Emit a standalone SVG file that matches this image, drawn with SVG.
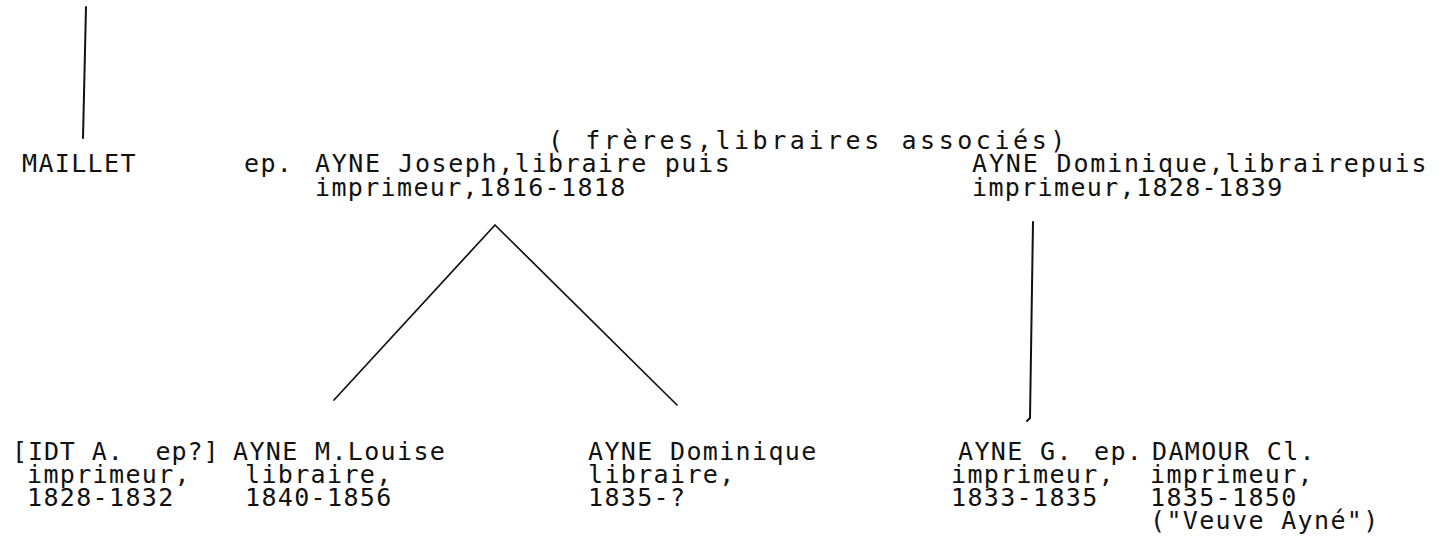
<svg xmlns="http://www.w3.org/2000/svg" width="1447" height="537" viewBox="0 0 1447 537">
<style>
text{font-family:"DejaVu Sans Mono","Liberation Mono",monospace;font-size:25px;fill:#111;letter-spacing:1.35px;white-space:pre}
.wide{letter-spacing:3.55px}
.ln{stroke:#111;stroke-width:2;fill:none;stroke-linecap:round;stroke-linejoin:round}
</style>
<rect width="1447" height="537" fill="#fff"/>
<g id="connectors">
<path class="ln" d="M86,7 L83,138"/>
<path class="ln" d="M334,400 L495,225 L677,405" style="stroke-width:1.7"/>
<path class="ln" d="M1033,222 L1030,418 L1027,421"/>
</g>
<g id="maillet"><text x="22" y="172">MAILLET</text></g>
<g id="ep1"><text x="244" y="172">ep.</text></g>
<g id="freres"><text class="wide" x="548" y="149">( frères,libraires associés)</text></g>
<g id="ayne-joseph">
<text x="315" y="172" style="letter-spacing:1.6px">AYNE Joseph,libraire puis</text>
<text x="315" y="196">imprimeur,1816-1818</text>
</g>
<g id="ayne-dominique-pere">
<text x="972" y="172" style="letter-spacing:1.85px">AYNE Dominique,librairepuis</text>
<text x="972" y="196">imprimeur,1828-1839</text>
</g>
<g id="idt">
<text x="12" y="460" xml:space="preserve" style="letter-spacing:0.9px">[IDT A.  ep?]</text>
<text x="27" y="483">imprimeur,</text>
<text x="27" y="506">1828-1832</text>
</g>
<g id="ayne-louise">
<text x="233" y="460">AYNE M.Louise</text>
<text x="245" y="483">libraire,</text>
<text x="245" y="506">1840-1856</text>
</g>
<g id="ayne-dominique-fils">
<text x="588" y="460">AYNE Dominique</text>
<text x="588" y="483">libraire,</text>
<text x="588" y="506">1835-?</text>
</g>
<g id="ayne-g">
<text x="958" y="460">AYNE G.</text>
<text x="951" y="483">imprimeur,</text>
<text x="951" y="506">1833-1835</text>
</g>
<g id="ep2"><text x="1094" y="460">ep.</text></g>
<g id="damour">
<text x="1152" y="460">DAMOUR Cl.</text>
<text x="1150" y="483">imprimeur,</text>
<text x="1150" y="506">1835-1850</text>
<text x="1150" y="529">("Veuve Ayné")</text>
</g>
</svg>
